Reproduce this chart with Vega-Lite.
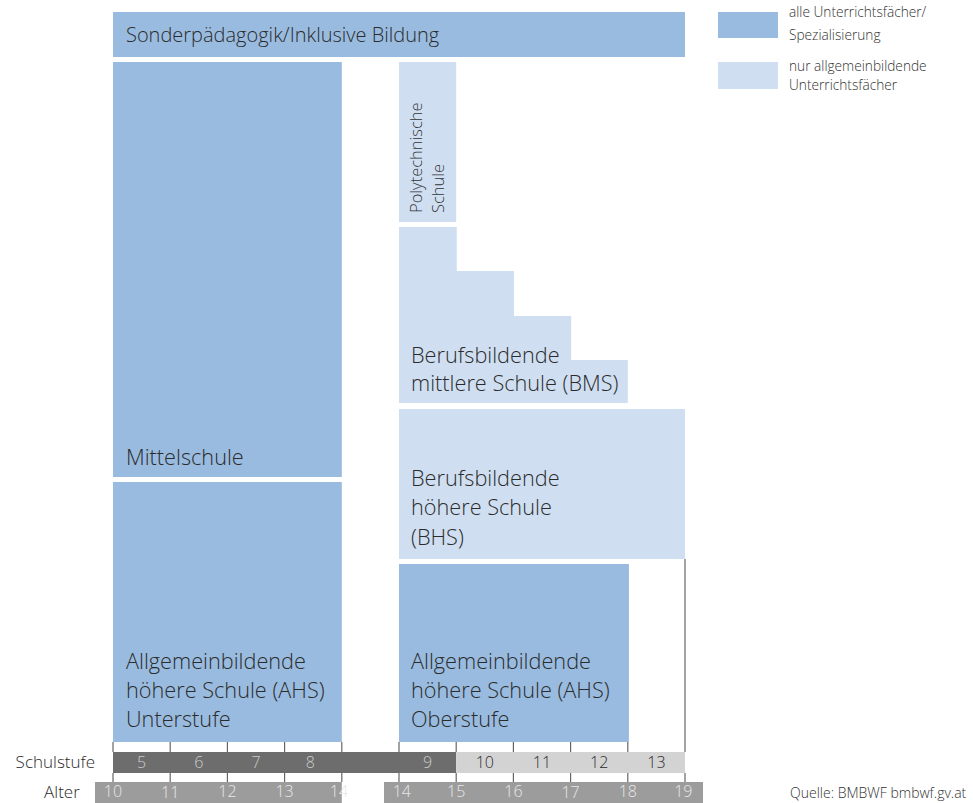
{
  "$schema": "https://vega.github.io/schema/vega-lite/v6.json",
  "width": 973,
  "height": 803,
  "autosize": {"type": "none"},
  "padding": 0,
  "background": "white",
  "config": {"view": {"stroke": null}, "font": "Open Sans"},
  "datasets": {
    "boxes": [
      {"name": "Sonderpädagogik", "x": 0, "x2": 10, "y": 12, "y2": 57, "cat": "alle"},
      {"name": "Mittelschule", "x": 0, "x2": 4, "y": 62, "y2": 477, "cat": "alle"},
      {"name": "AHS Unterstufe", "x": 0, "x2": 4, "y": 482, "y2": 742, "cat": "alle"},
      {"name": "Polytechnische Schule", "x": 5, "x2": 6, "y": 62, "y2": 222, "cat": "allgemein"},
      {"name": "BMS 9", "x": 5, "x2": 6.01, "y": 227, "y2": 403, "cat": "allgemein"},
      {"name": "BMS 10", "x": 6, "x2": 7.01, "y": 271, "y2": 403, "cat": "allgemein"},
      {"name": "BMS 11", "x": 7, "x2": 8.01, "y": 316, "y2": 403, "cat": "allgemein"},
      {"name": "BMS 12", "x": 8, "x2": 9, "y": 360, "y2": 403, "cat": "allgemein"},
      {"name": "BHS", "x": 5, "x2": 10, "y": 409, "y2": 559, "cat": "allgemein"},
      {"name": "AHS Oberstufe", "x": 5, "x2": 9.02, "y": 564, "y2": 742, "cat": "alle"},
      {"name": "Legende alle", "x": 10.577, "x2": 11.626, "y": 12, "y2": 38, "cat": "alle"},
      {"name": "Legende allgemein", "x": 10.577, "x2": 11.626, "y": 62, "y2": 89, "cat": "allgemein"},
      {"name": "Schulstufe Sek I", "x": 0, "x2": 6, "y": 752, "y2": 773, "cat": "stufe_dunkel"},
      {"name": "Schulstufe Sek II", "x": 6, "x2": 10, "y": 752, "y2": 773, "cat": "stufe_hell"},
      {"name": "Alter links", "x": -0.315, "x2": 4, "y": 782, "y2": 803, "cat": "alter"},
      {"name": "Alter rechts", "x": 4.738, "x2": 10.315, "y": 782, "y2": 803, "cat": "alter"}
    ],
    "ticks": [
      {"x": 0, "y": 742, "y2": 752}, {"x": 1, "y": 742, "y2": 752}, {"x": 2, "y": 742, "y2": 752},
      {"x": 3, "y": 742, "y2": 752}, {"x": 4, "y": 742, "y2": 752}, {"x": 5, "y": 742, "y2": 752},
      {"x": 6, "y": 742, "y2": 752}, {"x": 7, "y": 742, "y2": 752}, {"x": 8, "y": 742, "y2": 752},
      {"x": 9, "y": 742, "y2": 752}, {"x": 10, "y": 559, "y2": 752},
      {"x": 0, "y": 773, "y2": 782}, {"x": 1, "y": 773, "y2": 782}, {"x": 2, "y": 773, "y2": 782},
      {"x": 3, "y": 773, "y2": 782}, {"x": 4, "y": 773, "y2": 782}, {"x": 5, "y": 773, "y2": 782},
      {"x": 6, "y": 773, "y2": 782}, {"x": 7, "y": 773, "y2": 782}, {"x": 8, "y": 773, "y2": 782},
      {"x": 9, "y": 773, "y2": 782}, {"x": 10, "y": 773, "y2": 782}
    ],
    "topLabel": [
      {"x": 0.227, "y": 36, "t": "Sonderpädagogik/Inklusive Bildung"}
    ],
    "bigLabels": [
      {"x": 0.227, "y": 458, "t": "Mittelschule"},
      {"x": 0.227, "y": 662, "t": "Allgemeinbildende"},
      {"x": 0.227, "y": 691, "t": "höhere Schule (AHS)"},
      {"x": 0.227, "y": 720, "t": "Unterstufe"},
      {"x": 5.21, "y": 356, "t": "Berufsbildende"},
      {"x": 5.21, "y": 384, "t": "mittlere Schule (BMS)"},
      {"x": 5.21, "y": 479, "t": "Berufsbildende"},
      {"x": 5.21, "y": 508, "t": "höhere Schule"},
      {"x": 5.21, "y": 538, "t": "(BHS)"},
      {"x": 5.21, "y": 662, "t": "Allgemeinbildende"},
      {"x": 5.21, "y": 691, "t": "höhere Schule (AHS)"},
      {"x": 5.21, "y": 720, "t": "Oberstufe"}
    ],
    "rotLabels": [
      {"x": 5.315, "y": 213, "t": "Polytechnische"},
      {"x": 5.7, "y": 213, "t": "Schule"}
    ],
    "legendLabels": [
      {"x": 11.818, "y": 13, "t": "alle Unterrichtsfächer/"},
      {"x": 11.818, "y": 36, "t": "Spezialisierung"},
      {"x": 11.818, "y": 67, "t": "nur allgemeinbildende"},
      {"x": 11.818, "y": 86, "t": "Unterrichtsfächer"}
    ],
    "rowLabels": [
      {"x": -0.315, "y": 763, "t": "Schulstufe"},
      {"x": -0.58, "y": 793, "t": "Alter"}
    ],
    "stufen": [
      {"x": 0.5, "y": 763, "t": "5", "hell": "nein"},
      {"x": 1.5, "y": 763, "t": "6", "hell": "nein"},
      {"x": 2.5, "y": 763, "t": "7", "hell": "nein"},
      {"x": 3.45, "y": 763, "t": "8", "hell": "nein"},
      {"x": 5.5, "y": 763, "t": "9", "hell": "nein"},
      {"x": 6.5, "y": 763, "t": "10", "hell": "ja"},
      {"x": 7.5, "y": 763, "t": "11", "hell": "ja"},
      {"x": 8.5, "y": 763, "t": "12", "hell": "ja"},
      {"x": 9.5, "y": 763, "t": "13", "hell": "ja"}
    ],
    "alter": [
      {"x": 0, "y": 792, "t": "10"}, {"x": 1, "y": 793, "t": "11"}, {"x": 2, "y": 792, "t": "12"},
      {"x": 3, "y": 792, "t": "13"}, {"x": 3.95, "y": 792, "t": "14"},
      {"x": 5.05, "y": 792, "t": "14"}, {"x": 6, "y": 792, "t": "15"}, {"x": 7, "y": 792, "t": "16"},
      {"x": 8, "y": 793, "t": "17"}, {"x": 9, "y": 792, "t": "18"}, {"x": 9.97, "y": 792, "t": "19"}
    ],
    "quelle": [
      {"x": 11.836, "y": 794, "t": "Quelle: BMBWF bmbwf.gv.at"}
    ]
  },
  "layer": [
    {
      "data": {"name": "boxes"},
      "mark": {"type": "rect"},
      "encoding": {
        "x": {"field": "x", "type": "quantitative", "scale": {"domain": [-1.9755, 15.035], "nice": false, "zero": false}, "axis": null},
        "x2": {"field": "x2"},
        "y": {"field": "y", "type": "quantitative", "scale": {"domain": [0, 803], "reverse": true, "nice": false, "zero": false}, "axis": null},
        "y2": {"field": "y2"},
        "color": {"field": "cat", "type": "nominal", "legend": null,
          "scale": {"domain": ["alle", "allgemein", "stufe_dunkel", "stufe_hell", "alter"],
                    "range": ["#99bbdf", "#cfdff1", "#6d6d6d", "#d3d3d3", "#9c9c9c"]}}
      }
    },
    {
      "data": {"name": "ticks"},
      "mark": {"type": "rule", "color": "#666666", "strokeWidth": 1.2},
      "encoding": {
        "x": {"field": "x", "type": "quantitative"},
        "y": {"field": "y", "type": "quantitative"},
        "y2": {"field": "y2"}
      }
    },
    {
      "data": {"name": "topLabel"},
      "mark": {"type": "text", "align": "left", "baseline": "middle", "fontSize": 20, "fontWeight": 300, "color": "#2b2b2b"},
      "encoding": {
        "x": {"field": "x", "type": "quantitative"},
        "y": {"field": "y", "type": "quantitative"},
        "text": {"field": "t"}
      }
    },
    {
      "data": {"name": "bigLabels"},
      "mark": {"type": "text", "align": "left", "baseline": "middle", "fontSize": 21.7, "fontWeight": 300, "color": "#2b2b2b"},
      "encoding": {
        "x": {"field": "x", "type": "quantitative"},
        "y": {"field": "y", "type": "quantitative"},
        "text": {"field": "t"}
      }
    },
    {
      "data": {"name": "rotLabels"},
      "mark": {"type": "text", "align": "left", "baseline": "middle", "angle": 270, "fontSize": 16.5, "fontWeight": 300, "color": "#333333"},
      "encoding": {
        "x": {"field": "x", "type": "quantitative"},
        "y": {"field": "y", "type": "quantitative"},
        "text": {"field": "t"}
      }
    },
    {
      "data": {"name": "legendLabels"},
      "mark": {"type": "text", "align": "left", "baseline": "middle", "fontSize": 13.7, "fontWeight": 300, "color": "#333333"},
      "encoding": {
        "x": {"field": "x", "type": "quantitative"},
        "y": {"field": "y", "type": "quantitative"},
        "text": {"field": "t"}
      }
    },
    {
      "data": {"name": "rowLabels"},
      "mark": {"type": "text", "align": "right", "baseline": "middle", "fontSize": 17, "fontWeight": 300, "color": "#2b2b2b"},
      "encoding": {
        "x": {"field": "x", "type": "quantitative"},
        "y": {"field": "y", "type": "quantitative"},
        "text": {"field": "t"}
      }
    },
    {
      "data": {"name": "stufen"},
      "mark": {"type": "text", "align": "center", "baseline": "middle", "fontSize": 16, "fontWeight": 300},
      "encoding": {
        "x": {"field": "x", "type": "quantitative"},
        "y": {"field": "y", "type": "quantitative"},
        "text": {"field": "t"},
        "color": {"field": "hell", "type": "nominal", "legend": null,
          "scale": {"domain": ["nein", "ja"], "range": ["#cccccc", "#2b2b2b"]}}
      }
    },
    {
      "data": {"name": "alter"},
      "mark": {"type": "text", "align": "center", "baseline": "middle", "fontSize": 16, "fontWeight": 300, "color": "#e8e8e8"},
      "encoding": {
        "x": {"field": "x", "type": "quantitative"},
        "y": {"field": "y", "type": "quantitative"},
        "text": {"field": "t"}
      }
    },
    {
      "data": {"name": "quelle"},
      "mark": {"type": "text", "align": "left", "baseline": "middle", "fontSize": 14, "fontWeight": 300, "color": "#333333"},
      "encoding": {
        "x": {"field": "x", "type": "quantitative"},
        "y": {"field": "y", "type": "quantitative"},
        "text": {"field": "t"}
      }
    }
  ],
  "resolve": {"scale": {"color": "independent"}}
}
